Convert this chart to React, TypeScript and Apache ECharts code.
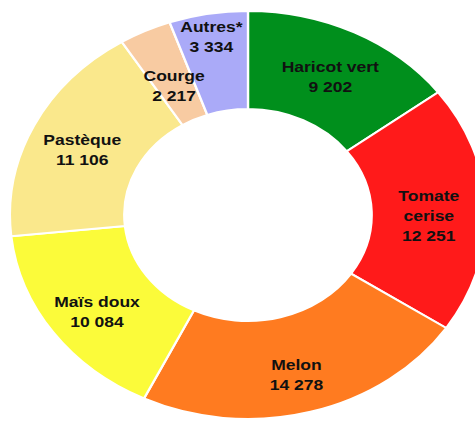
import React, { useEffect, useRef } from "react";
import * as echarts from "echarts";

const categories = ["Haricot vert", "Tomate cerise", "Melon", "Maïs doux", "Pastèque", "Courge", "Autres*"];
const values = [9202, 12251, 14278, 10084, 11106, 2217, 3334];
const colors = ["#008F1C", "#FF1A1A", "#FF7B20", "#FBFB3A", "#FAE88C", "#F8CBA2", "#AAAAF8"];
const labelShift = [
  [0, 3],
  [-3, 5],
  [0, 7],
  [0, 6],
  [0, 4],
  [5, 13],
  [-5, -23],
];

const fmt = (v: number) => String(v).replace(/\B(?=(\d{3})+(?!\d))/g, " ");

export default function App() {
  const ref = useRef<HTMLDivElement>(null);
  useEffect(() => {
    if (!ref.current) return;
    const chart = echarts.init(ref.current, null, { renderer: "svg" });
    chart.setOption({
      animation: false,
      series: [
        {
          type: "pie",
          center: [212.5, 215],
          radius: [106, 204],
          startAngle: 90,
          clockwise: true,
          avoidLabelOverlap: false,
          itemStyle: { borderColor: "#ffffff", borderWidth: 2 },
          label: {
            show: true,
            position: "inside",
            color: "#111111",
            fontFamily: "Liberation Sans, Arial, sans-serif",
            fontWeight: "bold",
            fontSize: 15,
            lineHeight: 20,
            align: "center",
            formatter: (p: any) => {
              const name = p.name === "Tomate cerise" ? "Tomate\ncerise" : p.name;
              return name + "\n" + fmt(p.value);
            },
          },
          labelLine: { show: false },
          labelLayout: (p: any) => ({ dx: labelShift[p.dataIndex][0], dy: labelShift[p.dataIndex][1] }),
          emphasis: { disabled: true },
          data: categories.map((c, i) => ({ name: c, value: values[i], itemStyle: { color: colors[i] } })),
        },
      ],
    });
    return () => chart.dispose();
  }, []);
  return (
    <div style={{ position: "absolute", left: 0, top: 0, width: 475, height: 421, overflow: "hidden", background: "#ffffff" }}>
      <div
        ref={ref}
        style={{ width: 420, height: 421, transform: "scaleX(1.167)", transformOrigin: "0 0" }}
      />
    </div>
  );
}
